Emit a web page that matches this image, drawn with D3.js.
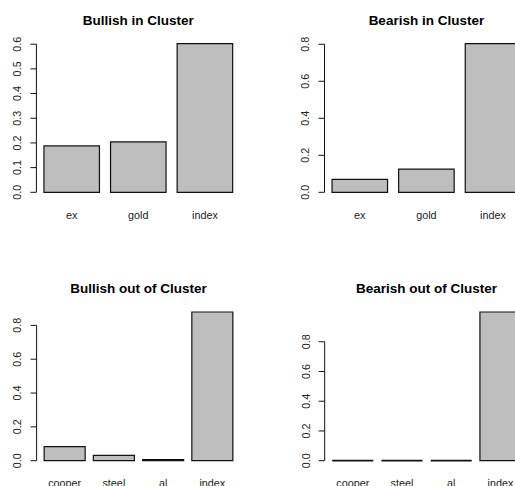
<!DOCTYPE html>
<html><head><meta charset="utf-8">
<script src="https://cdn.jsdelivr.net/npm/d3@7/dist/d3.min.js"></script>
<style>body{margin:0;background:#fff}svg{display:block}text{font-family:"Liberation Sans",Arial,sans-serif}</style>
</head><body>
<script>
const titles = ["Bullish in Cluster","Bearish in Cluster","Bullish out of Cluster","Bearish out of Cluster"];
const inCats = ["ex","gold","index"];
const outCats = ["cooper","steel","al","index"];
const bullishIn = [0.188, 0.204, 0.602];
const bearishIn = [0.070, 0.125, 0.803];
const bullishOut = [0.083, 0.032, 0.006, 0.879];
const bearishOut = [0.0, 0.0, 0.0, 1.0];
const ticksTopLeft = [0,0.1,0.2,0.3,0.4,0.5,0.6];
const ticksTopRight = [0,0.2,0.4,0.6,0.8];
const ticksBottomLeft = [0,0.2,0.4,0.6,0.8];
const ticksBottomRight = [0,0.2,0.4,0.6,0.8];

const W=515,H=486;
const svg=d3.select("body").append("svg").attr("width",W).attr("height",H);

const panels=[
 {title:titles[0],cats:inCats,vals:bullishIn,ticks:ticksTopLeft,left:36.4,zero:192.3,top:43.7},
 {title:titles[1],cats:inCats,vals:bearishIn,ticks:ticksTopRight,left:324.5,zero:192.3,top:43.7},
 {title:titles[2],cats:outCats,vals:bullishOut,ticks:ticksBottomLeft,left:36.6,zero:460.7,top:312},
 {title:titles[3],cats:outCats,vals:bearishOut,ticks:ticksBottomRight,left:324.7,zero:460.7,top:312}
];
const plotW=203.8;
const fmt=d3.format(".1f");

panels.forEach(p=>{
  const n=p.cats.length;
  const lo=0.2, hi=n*1.2, ext=(hi-lo)*0.04;
  const x=d3.scaleLinear().domain([lo-ext,hi+ext]).range([p.left,p.left+plotW]);
  const y=d3.scaleLinear().domain([0,d3.max(p.vals)]).range([p.zero,p.top]);
  const g=svg.append("g");
  g.selectAll("path.bar").data(p.vals).join("path").attr("class","bar")
    .attr("d",(v,i)=>{const x0=x(0.2+1.2*i),x1=x(1.2+1.2*i),y0=y(0),y1=y(v);
      return `M${x0},${y0}H${x1}V${y1}H${x0}Z`;})
    .attr("fill","#bebebe").attr("stroke","#111").attr("stroke-width",v=>v<0.004?1.8:1.2);
  g.selectAll("text.cat").data(p.cats).join("text").attr("class","cat")
    .attr("x",(c,i)=>x(0.7+1.2*i)).attr("y",p.zero+26.7)
    .attr("text-anchor","middle").attr("font-size","10.8px").attr("fill","#222").text(c=>c);
  const ax=p.left;
  const tmin=d3.min(p.ticks),tmax=d3.max(p.ticks);
  g.append("line").attr("x1",ax).attr("x2",ax).attr("y1",y(tmin)).attr("y2",y(tmax)).attr("stroke","#111");
  g.selectAll("line.tick").data(p.ticks).join("line").attr("class","tick")
    .attr("x1",ax-6).attr("x2",ax).attr("y1",d=>y(d)).attr("y2",d=>y(d)).attr("stroke","#111");
  g.selectAll("text.tl").data(p.ticks).join("text").attr("class","tl")
    .attr("transform",d=>`translate(${ax-15.2},${y(d)}) rotate(-90)`)
    .attr("text-anchor","middle").attr("font-size","10.8px").attr("fill","#222").text(d=>fmt(d));
  g.append("text").attr("x",p.left+plotW/2).attr("y",p.top-18.8)
    .attr("text-anchor","middle").attr("font-size","13.5px").attr("font-weight","bold").attr("fill","#000").text(p.title);
});
</script>
</body></html>
